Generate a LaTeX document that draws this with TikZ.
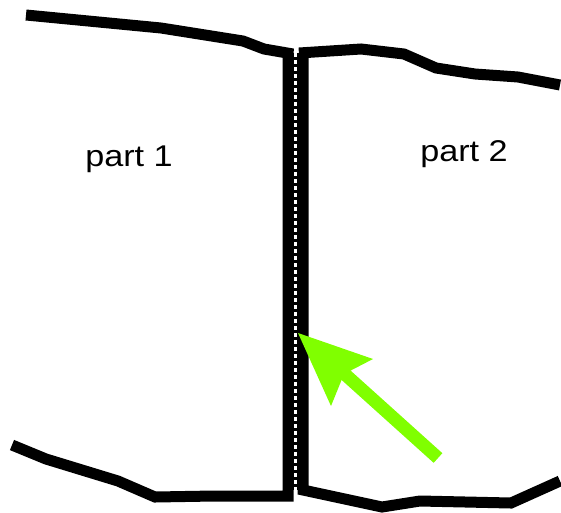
\documentclass[tikz,border=0pt]{standalone}
\usepackage{fontspec}
\setmainfont{Liberation Sans}
\definecolor{arrowgreen}{HTML}{80FF00}
\begin{document}
\begin{tikzpicture}[x=1pt,y=-1pt,
  outline/.style={line width=11pt, line join=miter, black},
  label/.style={font=\fontsize{30}{36}\selectfont, anchor=base, inner sep=0pt}]
\useasboundingbox (0,0) rectangle (561,512);
% left part
\draw[outline] (26,15) -- (161,28) -- (243,41) -- (264,49) -- (293,54) -- (288,54) -- (288,496) -- (214,496) -- (155,497) -- (118,481) -- (46,459) -- (12,445);
% right part
\draw[outline] (560,85) -- (518,77) -- (475,74) -- (436,68) -- (404,54) -- (361,49) -- (299,53) -- (303,53) -- (303,490) -- (382,507) -- (420,501) -- (511,503) -- (560,481);
% seam
\coordinate (s1) at (295.5,53);
\coordinate (s2) at (295.5,490);
\draw[line width=6pt, black] (s1) -- (s2);
\draw[line width=2.6pt, white, dash pattern=on 4pt off 3pt] (s1) -- (s2);
% labels
\node[label] (p1) at (129,166) {\scalebox{1.14}[1]{part 1}};
\node[label] (p2) at (464,161) {\scalebox{1.14}[1]{part 2}};
% arrow
\coordinate (tail) at (438,458);
\coordinate (neck) at (338,368);
\coordinate (tip) at (298,333);
\draw[line width=13pt, arrowgreen] (tail) -- (neck);
\fill[arrowgreen] (tip) -- (373,359) -- (344,374) -- (331,406) -- cycle;
\end{tikzpicture}
\end{document}
